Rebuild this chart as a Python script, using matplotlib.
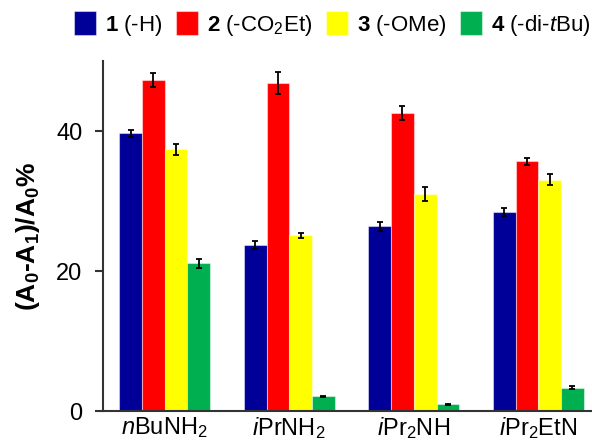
import matplotlib
matplotlib.use('Agg')
import matplotlib.pyplot as plt
import numpy as np

plt.rcParams['font.family'] = ['Liberation Sans', 'DejaVu Sans']
plt.rcParams['mathtext.fontset'] = 'custom'
plt.rcParams['mathtext.rm'] = 'Liberation Sans'
plt.rcParams['mathtext.it'] = 'Liberation Sans:italic'
plt.rcParams['mathtext.bf'] = 'Liberation Sans:bold'

# amines on the x axis
amines = ['$n$BuNH$_2$', '$i$PrNH$_2$', '$i$Pr$_2$NH', '$i$Pr$_2$EtN']

series_names = [r'$\mathbf{1}$ (-H)', r'$\mathbf{2}$ (-CO$_2$Et)',
                r'$\mathbf{3}$ (-OMe)', r'$\mathbf{4}$ (-di-$t$Bu)']
series_colors = ['#000099', '#ff0000', '#ffff00', '#00b050']

# (A0-A1)/A0 % for each compound, one list per series
vals_1 = [39.7, 23.7, 26.4, 28.5]
vals_2 = [47.3, 46.9, 42.6, 35.7]
vals_3 = [37.4, 25.1, 31.0, 33.1]
vals_4 = [21.1, 2.1, 0.96, 3.34]

err_1 = [0.5, 0.55, 0.65, 0.55]
err_2 = [1.0, 1.6, 1.0, 0.5]
err_3 = [0.8, 0.35, 1.0, 0.75]
err_4 = [0.7, 0.1, 0.1, 0.25]

values = [vals_1, vals_2, vals_3, vals_4]
errors = [err_1, err_2, err_3, err_4]

fig = plt.figure(figsize=(5.92, 4.42), dpi=100)
ax = fig.add_axes([0.1735, 0.0701, 0.8265, 0.7912])

x = np.arange(len(amines))
w = 0.182
for i, (v, e) in enumerate(zip(values, errors)):
    ax.bar(x + (i - 1.5) * w, v, w, color=series_colors[i],
           edgecolor=(1, 1, 1, 0.45), linewidth=0.8, label=series_names[i],
           yerr=e, error_kw=dict(ecolor='black', elinewidth=1.3,
                                 capsize=2, capthick=1.3))

ax.set_xlim(-0.497, 3.43)
ax.set_ylim(0, 50)
ax.set_yticks([0, 20, 40])
ax.set_xticks(x)
ax.set_xticklabels(amines)
ax.tick_params(axis='y', labelsize=17, length=5.5, width=1.5,
               color='#333333', pad=9)
ax.tick_params(axis='x', labelsize=17, length=0, pad=3)

for s in ['top', 'right']:
    ax.spines[s].set_visible(False)
for s in ['left', 'bottom']:
    ax.spines[s].set_linewidth(1.5)
    ax.spines[s].set_color('#333333')

ax.set_ylabel(r'(A$_\mathbf{0}$-A$_\mathbf{1}$)/A$_\mathbf{0}$%',
              fontsize=19, fontweight='bold', labelpad=10)

fig.legend(loc='center right', bbox_to_anchor=(1.012, 0.945), ncol=4,
           frameon=False, fontsize=16, handlelength=1.0, handleheight=1.3,
           handletextpad=0.4, columnspacing=0.6, borderaxespad=0.0)

fig.savefig('out.png', dpi=100)
